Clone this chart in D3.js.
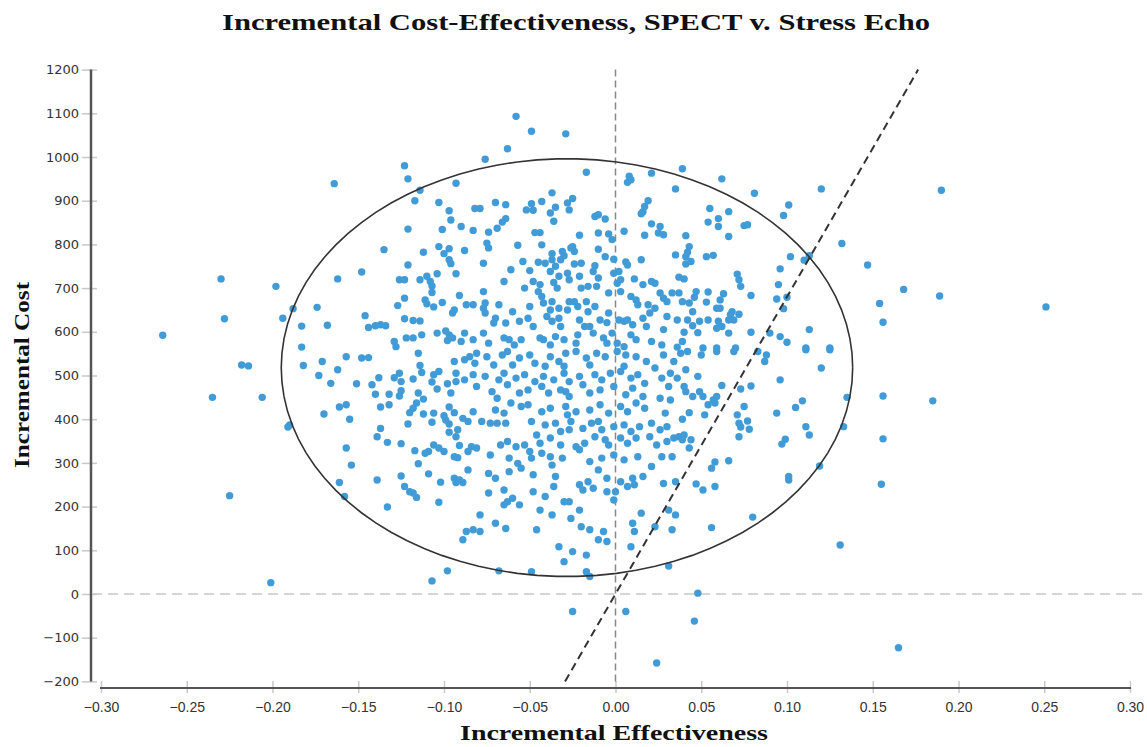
<!DOCTYPE html>
<html>
<head>
<meta charset="utf-8">
<script src="https://cdn.jsdelivr.net/npm/d3@7"></script>
<style>
  body { margin: 0; background: #fff; }
  svg { display: block; }
</style>
</head>
<body>
<script>
// Incremental cost-effectiveness scatter (bootstrap replicates)

const xTicks = [-0.30, -0.25, -0.20, -0.15, -0.10, -0.05, 0.00, 0.05, 0.10, 0.15, 0.20, 0.25, 0.30];
const yTicks = [-200, -100, 0, 100, 200, 300, 400, 500, 600, 700, 800, 900, 1000, 1100, 1200];

// confidence ellipse: centre and half-axes
const ellipseCenter = [-0.0283, 518];
const ellipseRadii = [0.1666, 478];

// willingness-to-pay threshold line (cost per unit effectiveness)
const wtp = 6800;

// replicates, [effectiveness, cost]
const upperLeft = [[-0.123,980],[-0.164,939],[-0.121,950],[-0.093,940],[-0.114,924],[-0.117,900],[-0.103,896],[-0.097,877],[-0.096,856],[-0.090,841],[-0.121,835],[-0.101,834],[-0.135,788],[-0.112,782],[-0.103,795],[-0.097,790],[-0.100,779],[-0.088,786],[-0.097,765],[-0.096,756],[-0.121,753],[-0.148,737],[-0.162,721],[-0.198,704],[-0.126,719],[-0.123,719],[-0.114,719],[-0.110,727],[-0.108,715],[-0.107,705],[-0.104,733],[-0.093,733],[-0.107,690],[-0.123,677],[-0.111,673],[-0.110,664],[-0.101,667],[-0.091,683],[-0.087,662],[-0.127,660],[-0.106,657],[-0.095,643],[-0.094,650],[-0.188,653],[-0.174,656],[-0.194,631],[-0.146,637],[-0.123,630],[-0.118,626],[-0.114,625],[-0.183,613],[-0.168,615],[-0.144,610],[-0.140,614],[-0.137,616],[-0.134,614],[-0.113,593],[-0.122,586],[-0.118,586],[-0.104,597],[-0.099,602],[-0.097,593],[-0.095,586],[-0.098,580],[-0.088,597],[-0.090,578],[-0.129,578],[-0.183,565],[-0.128,566]];

const upperMid = [[-0.058,1093],[-0.049,1059],[-0.029,1053],[-0.063,1019],[-0.076,995],[-0.017,965],[0.008,956],[0.009,948],[0.007,942],[0.021,963],[-0.037,918],[-0.070,896],[-0.064,891],[-0.049,893],[-0.043,898],[-0.028,895],[-0.025,905],[0.019,900],[0.017,887],[0.016,875],[0.015,870],[-0.082,882],[-0.079,882],[-0.052,879],[-0.048,878],[-0.035,885],[-0.038,872],[-0.027,879],[-0.012,864],[-0.010,868],[-0.006,858],[-0.064,859],[-0.066,851],[-0.069,837],[-0.036,853],[-0.083,832],[-0.074,828],[-0.047,827],[-0.044,827],[-0.021,821],[-0.010,826],[-0.004,824],[-0.002,811],[0.005,830],[0.017,821],[0.021,847],[0.026,841],[0.025,826],[0.028,822],[-0.075,803],[-0.074,792],[-0.057,798],[-0.043,799],[-0.025,795],[-0.024,784],[-0.010,789],[-0.077,757],[-0.061,742],[-0.054,761],[-0.045,759],[-0.041,757],[-0.037,765],[-0.032,765],[-0.030,774],[-0.035,750],[-0.038,738],[-0.037,779],[-0.031,784],[-0.026,792],[-0.050,740],[-0.024,755],[-0.020,757],[-0.012,751],[-0.013,738],[-0.006,772],[-0.001,766],[0.006,760],[0.007,753],[0.015,765],[-0.065,715],[-0.048,715],[-0.044,708],[-0.045,692],[-0.043,681],[-0.033,727],[-0.036,713],[-0.034,700],[-0.028,734],[-0.027,719],[-0.021,727],[-0.020,700],[-0.016,704],[-0.010,723],[-0.011,704],[-0.001,734],[0.002,738],[0.001,711],[0.003,719],[0.011,721],[0.016,708],[0.021,715],[0.023,711],[-0.077,692],[-0.053,700],[-0.004,689],[0.003,692],[0.009,681],[0.012,673],[0.013,662],[0.026,689],[0.028,677],[0.030,669],[-0.083,662],[-0.076,666],[-0.077,654],[-0.076,643],[-0.068,662],[-0.050,658],[-0.042,666],[-0.037,669],[-0.038,650],[-0.033,654],[-0.028,650],[-0.027,669],[-0.024,669],[-0.022,658],[-0.017,669],[-0.016,646],[-0.012,658],[-0.004,643],[0.019,662],[0.020,643],[0.023,654],[-0.060,646],[-0.070,631],[-0.071,620],[-0.064,620],[-0.056,624],[-0.051,631],[-0.048,612],[-0.040,635],[-0.037,624],[-0.033,631],[-0.032,612],[-0.021,627],[-0.018,612],[-0.015,612],[-0.009,627],[-0.005,621],[0.002,627],[0.005,624],[0.007,627],[0.010,616],[0.016,631],[0.018,612],[0.030,635],[0.028,605],[-0.077,597],[-0.083,582],[-0.074,574],[-0.065,586],[-0.062,582],[-0.059,570],[-0.055,582],[-0.044,586],[-0.042,582],[-0.038,570],[-0.035,589],[-0.030,582],[-0.022,593],[-0.023,574],[-0.013,597],[-0.007,586],[-0.005,574],[-0.002,597],[0.001,574],[0.005,566],[0.009,593],[0.012,582],[0.021,578],[0.027,570]];

const upperRight = [[0.039,973],[0.062,950],[0.035,927],[0.081,917],[0.120,927],[0.055,882],[0.066,875],[0.101,890],[0.098,866],[0.054,851],[0.060,859],[0.060,841],[0.075,843],[0.077,845],[0.041,820],[0.066,818],[0.043,795],[0.042,782],[0.041,772],[0.035,776],[0.044,761],[0.041,755],[0.053,772],[0.057,775],[0.132,802],[0.102,772],[0.110,764],[0.113,774],[0.147,753],[0.096,744],[0.071,732],[0.072,719],[0.073,704],[0.037,725],[0.040,721],[0.095,708],[0.033,689],[0.037,689],[0.047,692],[0.054,691],[0.063,687],[0.079,683],[0.100,679],[0.094,675],[0.039,669],[0.043,666],[0.053,668],[0.061,673],[0.046,679],[0.059,654],[0.061,654],[0.045,646],[0.068,646],[0.072,640],[0.067,639],[0.098,653],[0.036,627],[0.042,627],[0.049,624],[0.054,627],[0.060,624],[0.066,627],[0.069,627],[0.045,614],[0.059,608],[0.062,612],[0.040,599],[0.048,598],[0.066,597],[0.079,599],[0.090,597],[0.096,589],[0.100,576],[0.113,605],[0.039,578],[0.036,565],[0.051,563],[0.070,563],[0.059,563],[0.111,563],[0.125,563]];

const lowerLeft = [[-0.182,523],[-0.171,532],[-0.157,543],[-0.148,540],[-0.144,541],[-0.173,500],[-0.166,482],[-0.162,513],[-0.151,481],[-0.142,479],[-0.138,495],[-0.140,457],[-0.132,457],[-0.137,428],[-0.132,433],[-0.129,495],[-0.126,505],[-0.125,486],[-0.125,465],[-0.126,453],[-0.118,492],[-0.113,507],[-0.114,523],[-0.115,551],[-0.115,460],[-0.112,446],[-0.116,437],[-0.118,425],[-0.120,415],[-0.106,502],[-0.103,509],[-0.107,485],[-0.104,469],[-0.098,481],[-0.094,532],[-0.093,505],[-0.093,486],[-0.088,490],[-0.088,536],[-0.085,543],[-0.096,460],[-0.161,428],[-0.157,433],[-0.170,412],[-0.155,400],[-0.191,382],[-0.190,387],[-0.112,412],[-0.106,414],[-0.107,393],[-0.121,389],[-0.100,408],[-0.099,398],[-0.097,428],[-0.094,415],[-0.097,389],[-0.089,402],[-0.086,395],[-0.092,376],[-0.093,360],[-0.097,370],[-0.137,379],[-0.139,360],[-0.133,347],[-0.125,344],[-0.157,334],[-0.106,341],[-0.103,334],[-0.100,326],[-0.109,326],[-0.111,322],[-0.117,328],[-0.091,340],[-0.094,314],[-0.092,312],[-0.086,326],[-0.154,295],[-0.115,298],[-0.109,275],[-0.086,284],[-0.125,270],[-0.139,261],[-0.161,255],[-0.094,265],[-0.091,261],[-0.089,255],[-0.093,255],[-0.102,256],[-0.123,246],[-0.120,234],[-0.118,231],[-0.116,221],[-0.158,223],[-0.103,210],[-0.133,199],[-0.087,143],[-0.089,124],[-0.098,53],[-0.107,30]];

const lowerMid = [[-0.081,551],[-0.075,543],[-0.066,547],[-0.063,555],[-0.056,540],[-0.050,547],[-0.047,528],[-0.038,543],[-0.033,532],[-0.029,551],[-0.023,555],[-0.017,540],[-0.011,551],[-0.006,543],[0.001,555],[0.006,547],[0.012,543],[0.018,532],[0.028,547],[-0.082,528],[-0.071,524],[-0.060,524],[-0.041,521],[-0.030,521],[-0.015,524],[0.005,521],[0.023,517],[-0.083,502],[-0.076,498],[-0.068,490],[-0.065,505],[-0.058,494],[-0.053,502],[-0.047,486],[-0.042,498],[-0.036,490],[-0.030,505],[-0.027,486],[-0.021,498],[-0.012,502],[-0.008,490],[-0.003,505],[0.003,509],[0.009,494],[0.013,502],[0.017,482],[0.027,494],[0.032,505],[-0.081,475],[-0.072,463],[-0.069,448],[-0.063,479],[-0.056,460],[-0.051,467],[-0.043,475],[-0.039,460],[-0.032,467],[-0.029,463],[-0.027,452],[-0.019,479],[-0.015,460],[-0.009,467],[-0.001,475],[0.006,456],[0.010,471],[0.016,452],[0.026,448],[0.031,475],[-0.083,417],[-0.070,421],[-0.065,414],[-0.061,437],[-0.055,429],[-0.051,433],[-0.043,417],[-0.038,425],[-0.029,429],[-0.028,410],[-0.023,417],[-0.015,421],[-0.009,433],[-0.004,414],[0.003,429],[0.007,417],[0.012,437],[0.017,425],[0.029,414],[-0.078,395],[-0.073,391],[-0.069,391],[-0.064,391],[-0.049,395],[-0.041,387],[-0.035,391],[-0.032,372],[-0.026,395],[-0.027,376],[-0.019,379],[-0.014,391],[-0.010,395],[-0.008,376],[-0.001,383],[0.005,387],[0.009,372],[0.014,383],[0.021,391],[0.026,376],[0.030,383],[-0.084,337],[-0.081,334],[-0.067,341],[-0.063,349],[-0.058,337],[-0.053,341],[-0.046,364],[-0.044,345],[-0.038,357],[-0.032,341],[-0.023,337],[-0.018,345],[-0.012,360],[-0.006,353],[-0.004,341],[0.003,357],[0.007,345],[0.012,357],[0.020,360],[0.024,341],[0.030,349],[-0.073,318],[-0.062,311],[-0.057,299],[-0.050,326],[-0.049,311],[-0.043,322],[-0.038,314],[-0.031,311],[-0.021,330],[-0.015,303],[-0.008,311],[-0.001,318],[0.005,307],[0.013,314],[0.021,292],[0.027,314],[-0.074,276],[-0.070,265],[-0.062,280],[-0.055,288],[-0.048,273],[-0.037,295],[-0.035,269],[-0.021,250],[-0.016,257],[-0.010,284],[-0.005,265],[0.003,257],[0.010,265],[0.016,269],[0.028,253],[-0.074,231],[-0.065,238],[-0.063,211],[-0.060,219],[-0.056,204],[-0.048,234],[-0.041,223],[-0.036,246],[-0.030,211],[-0.027,211],[-0.019,238],[-0.013,242],[-0.005,234],[0.000,234],[0.007,246],[0.011,250],[-0.065,204],[-0.044,192],[-0.037,181],[-0.021,192],[-0.001,215],[0.015,185],[0.031,192],[-0.079,181],[-0.070,162],[-0.064,150],[-0.083,147],[-0.079,143],[-0.046,147],[-0.026,173],[-0.020,154],[-0.015,147],[-0.007,143],[0.010,162],[0.011,143],[0.023,154],[-0.010,124],[-0.005,120],[-0.033,108],[-0.025,97],[-0.017,89],[0.009,108],[-0.030,74],[-0.068,53],[-0.049,51],[-0.017,51],[-0.015,40],[0.031,64]];

const lowerRight = [[0.038,551],[0.042,555],[0.050,547],[0.059,555],[0.069,555],[0.083,555],[0.088,547],[0.087,532],[0.111,559],[0.125,559],[0.034,532],[0.041,513],[0.036,494],[0.048,498],[0.062,477],[0.073,469],[0.079,476],[0.096,490],[0.120,517],[0.040,475],[0.041,463],[0.045,452],[0.049,463],[0.051,452],[0.057,444],[0.059,452],[0.058,437],[0.054,433],[0.032,444],[0.109,442],[0.105,427],[0.135,450],[0.094,414],[0.075,429],[0.071,410],[0.077,396],[0.072,391],[0.073,382],[0.078,377],[0.072,360],[0.052,410],[0.043,415],[0.039,400],[0.133,383],[0.111,383],[0.113,364],[0.034,357],[0.037,360],[0.040,364],[0.039,353],[0.044,353],[0.043,334],[0.033,314],[0.099,354],[0.097,343],[0.058,302],[0.056,288],[0.066,305],[0.119,293],[0.101,269],[0.101,261],[0.035,257],[0.047,252],[0.051,238],[0.058,246],[0.035,181],[0.033,147],[0.056,152],[0.080,176],[0.131,112],[0.048,2]];

const outliers = [[0.190,924],[0.168,697],[0.189,682],[0.251,657],[0.154,665],[0.156,622],[0.156,453],[0.185,442],[0.156,355],[0.155,251],[0.165,-123],[-0.230,721],[-0.228,630],[-0.264,592],[-0.218,524],[-0.214,522],[-0.235,450],[-0.206,450],[-0.225,225],[-0.201,26],[-0.025,-40],[0.006,-40],[0.046,-62],[0.024,-158]];

const points = [].concat(upperLeft, upperMid, upperRight, lowerLeft, lowerMid, lowerRight, outliers);

const svgWidth = 1147;
const svgHeight = 747;

const svg = d3.select("body")
    .append("svg")
    .attr("width", svgWidth)
    .attr("height", svgHeight);

const x = d3.scaleLinear()
    .domain([-0.30, 0.30])
    .range([101, 1130]);

const y = d3.scaleLinear()
    .domain([-200, 1200])
    .range([681.4, 69.6]);

// title
svg.append("text")
    .attr("x", 576)
    .attr("y", 30)
    .attr("text-anchor", "middle")
    .attr("font-family", "Liberation Serif, Times New Roman, serif")
    .attr("font-weight", "bold")
    .attr("font-size", 24)
    .attr("textLength", 708)
    .attr("lengthAdjust", "spacingAndGlyphs")
    .attr("fill", "#111")
    .text("Incremental Cost-Effectiveness, SPECT v. Stress Echo");

// axis titles
svg.append("text")
    .attr("x", 614)
    .attr("y", 740)
    .attr("text-anchor", "middle")
    .attr("font-family", "Liberation Serif, Times New Roman, serif")
    .attr("font-weight", "bold")
    .attr("font-size", 21)
    .attr("textLength", 308)
    .attr("lengthAdjust", "spacingAndGlyphs")
    .attr("fill", "#111")
    .text("Incremental Effectiveness");

svg.append("text")
    .attr("transform", "translate(29, 375) rotate(-90)")
    .attr("text-anchor", "middle")
    .attr("font-family", "Liberation Serif, Times New Roman, serif")
    .attr("font-weight", "bold")
    .attr("font-size", 22)
    .attr("textLength", 186)
    .attr("lengthAdjust", "spacingAndGlyphs")
    .attr("fill", "#111")
    .text("Incremental Cost");

// y axis
const yAxis = svg.append("g")
    .attr("transform", "translate(97, 0)")
    .call(d3.axisLeft(y).tickValues(yTicks).tickSize(15).tickPadding(3).tickFormat(d3.format("d")));
yAxis.select(".domain").remove();
yAxis.selectAll(".tick line").attr("stroke", "#c8c8c8").attr("stroke-width", 1.5);
yAxis.selectAll(".tick text")
    .attr("font-family", "DejaVu Sans, Verdana, sans-serif")
    .attr("font-size", 13)
    .attr("fill", "#333");

svg.append("line")
    .attr("x1", 91).attr("x2", 91)
    .attr("y1", y(1200)).attr("y2", y(-200))
    .attr("stroke", "#555")
    .attr("stroke-width", 2.5);

// x axis
const xAxis = svg.append("g")
    .attr("transform", "translate(0, 681)")
    .call(d3.axisBottom(x).tickValues(xTicks).tickSize(12).tickPadding(9).tickFormat(d3.format(".2f")));
xAxis.select(".domain").remove();
xAxis.selectAll(".tick line").attr("stroke", "#c8c8c8").attr("stroke-width", 1.5);
xAxis.selectAll(".tick text")
    .attr("font-family", "Liberation Sans, Arial, sans-serif")
    .attr("font-size", 14)
    .attr("fill", "#333");

svg.append("line")
    .attr("x1", x(-0.30) - 1).attr("x2", x(0.30) + 1)
    .attr("y1", 688).attr("y2", 688)
    .attr("stroke", "#555")
    .attr("stroke-width", 2);

// reference lines
svg.append("line")
    .attr("x1", 92).attr("x2", svgWidth)
    .attr("y1", y(0)).attr("y2", y(0))
    .attr("stroke", "#c8c8c8")
    .attr("stroke-width", 1.5)
    .attr("stroke-dasharray", "10,6");

svg.append("line")
    .attr("x1", x(0)).attr("x2", x(0))
    .attr("y1", y(1200)).attr("y2", y(-200))
    .attr("stroke", "#888")
    .attr("stroke-width", 1.5)
    .attr("stroke-dasharray", "7,4");

// dots
svg.append("g")
    .selectAll("circle")
    .data(points)
    .enter()
    .append("circle")
    .attr("cx", d => x(d[0]))
    .attr("cy", d => y(d[1]))
    .attr("r", 3.7)
    .attr("fill", "#419bd7");

// ellipse (sampled outline)
const angles = d3.range(0, 361, 4).map(a => a * Math.PI / 180);
const ellipseLine = d3.line()
    .x(t => x(ellipseCenter[0] + ellipseRadii[0] * Math.cos(t)))
    .y(t => y(ellipseCenter[1] + ellipseRadii[1] * Math.sin(t)));
svg.append("path")
    .attr("d", ellipseLine(angles))
    .attr("fill", "none")
    .attr("stroke", "#333")
    .attr("stroke-width", 1.6);

// threshold line
svg.append("line")
    .attr("x1", x(-200 / wtp)).attr("y1", y(-200))
    .attr("x2", x(1200 / wtp)).attr("y2", y(1200))
    .attr("stroke", "#333")
    .attr("stroke-width", 2)
    .attr("stroke-dasharray", "8,5");
</script>
</body>
</html>
